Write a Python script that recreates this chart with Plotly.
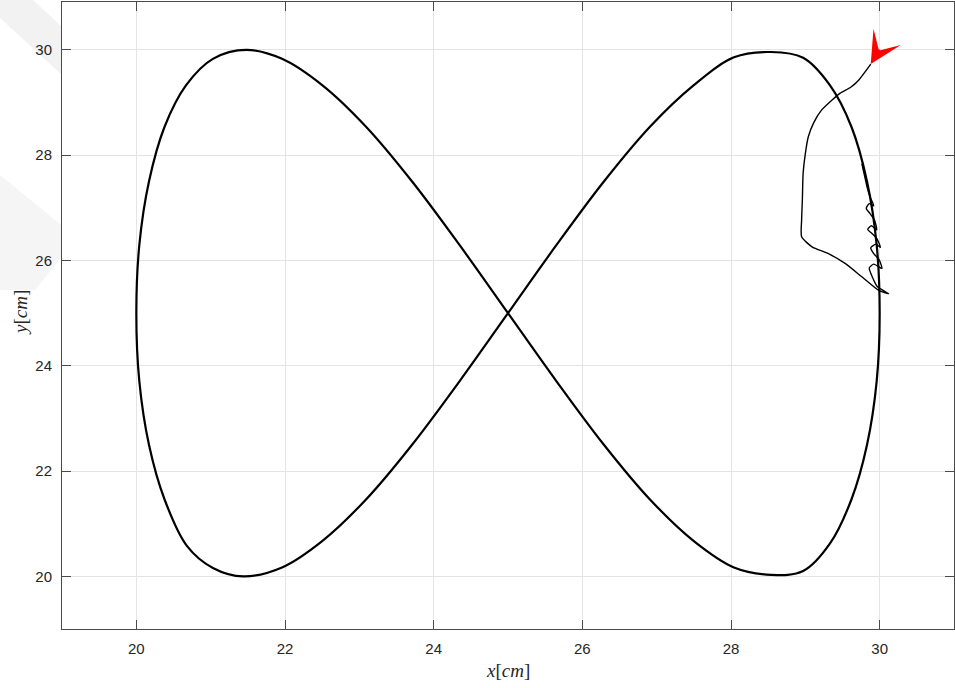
import math
import plotly.graph_objects as go

# Tracked figure-eight path (cm), sampled along one full lap
loop_x = [30.00, 29.96, 29.83, 29.62, 29.33, 28.97, 28.54, 28.04, 27.50, 26.91,
          26.29, 25.65, 25.00, 24.35, 23.71, 23.09, 22.50, 21.96, 21.44, 21.03,
          20.68, 20.38, 20.17, 20.04, 20.00, 20.04, 20.17, 20.38, 20.67, 21.03,
          21.48, 21.96, 22.50, 23.09, 23.71, 24.35, 25.00, 25.65, 26.29, 26.91,
          27.50, 28.04, 28.54, 28.97, 29.33, 29.62, 29.83, 29.96, 30.00]
loop_y = [25.00, 26.29, 27.50, 28.54, 29.33, 29.85, 29.96, 29.86, 29.33, 28.54,
          27.50, 26.29, 25.00, 23.71, 22.50, 21.46, 20.67, 20.17, 20.00, 20.16,
          20.58, 21.46, 22.50, 23.71, 25.00, 26.29, 27.50, 28.54, 29.33, 29.83,
          30.00, 29.83, 29.33, 28.54, 27.50, 26.29, 25.00, 23.71, 22.50, 21.46,
          20.67, 20.17, 20.03, 20.10, 20.62, 21.46, 22.50, 23.71, 25.00]

# Initial approach from the start pose, then the settling oscillation
start_x = [29.88, 29.72, 29.61, 29.47, 29.36, 29.22, 29.11, 29.04, 29.00, 28.97,
           28.96, 28.95, 28.95, 29.09, 29.31, 29.54, 29.76, 29.99, 30.12,
           29.97, 29.90, 29.86, 29.92, 30.03, 29.99, 29.92, 29.88, 29.95, 30.01,
           29.96, 29.90, 29.84, 29.89, 29.96, 29.93, 29.87, 29.82, 29.86, 29.92,
           29.87, 29.83, 29.80, 29.76]
start_y = [29.73, 29.43, 29.29, 29.18, 29.05, 28.86, 28.61, 28.35, 28.03, 27.65,
           27.15, 26.77, 26.45, 26.26, 26.13, 25.94, 25.69, 25.43, 25.37,
           25.50, 25.69, 25.86, 25.93, 25.85, 26.02, 26.13, 26.24, 26.31, 26.25,
           26.42, 26.51, 26.59, 26.66, 26.58, 26.77, 26.89, 26.99, 27.08, 27.04,
           27.21, 27.40, 27.59, 27.84]

# Heading of the start pose, degrees clockwise from north
start_heading = 211

x_ticks = [20, 22, 24, 26, 28, 30]
y_ticks = [20, 22, 24, 26, 28, 30]

fig = go.Figure()

fig.add_trace(go.Scatter(
    x=loop_x, y=loop_y, mode="lines",
    line=dict(color="black", width=2.2, shape="spline", smoothing=1.0),
    showlegend=False, hoverinfo="skip"))

fig.add_trace(go.Scatter(
    x=start_x, y=start_y, mode="lines",
    line=dict(color="black", width=1.4, shape="spline", smoothing=0.6),
    showlegend=False, hoverinfo="skip"))

# page geometry (px) for the plot box
W, H = 955, 688
L, R, T, B = 62, 1, 2, 59
pw, ph = W - L - R, H - T - B


def px(xp, yp):
    return (xp - L) / pw, (H - B - yp) / ph


def poly(points):
    pts = [px(a, b) for a, b in points]
    return "M " + " L ".join(f"{a:.4f},{b:.4f}" for a, b in pts) + " Z"


shapes = [
    dict(type="path", xref="paper", yref="paper", layer="below",
         path=poly([(0, 0), (33, 0), (61, 26), (61, 74), (0, 18)]),
         fillcolor="#f2f2f2", line=dict(width=0)),
    dict(type="path", xref="paper", yref="paper", layer="below",
         path=poly([(0, 175), (61, 225), (61, 258), (35, 290), (0, 290)]),
         fillcolor="#f5f5f5", line=dict(width=0)),
]

# barbed red heading marker at the start pose; tail offset points back
# along the heading so the head faces the direction of travel
tail = 17
hd = math.radians(start_heading)
tail_dx = -math.sin(hd) * tail
tail_dy = math.cos(hd) * tail

axis_common = dict(
    showgrid=True, gridcolor="#e4e4e4", gridwidth=1,
    showline=True, linecolor="#4a4a4a", linewidth=1, mirror="ticks",
    ticks="inside", ticklen=9, tickwidth=1, tickcolor="#4a4a4a",
    tickfont=dict(family="Liberation Sans, Arial, sans-serif", size=15,
                  color="#262626"),
    zeroline=False, fixedrange=True,
)

fig.update_layout(
    width=W, height=H,
    margin=dict(l=L, r=R, t=T, b=B, autoexpand=False),
    paper_bgcolor="white", plot_bgcolor="white",
    xaxis=dict(range=[19, 31], tickvals=x_ticks, ticktext=[str(v) for v in x_ticks],
               ticklabelstandoff=6, **axis_common),
    yaxis=dict(range=[19, 30.91], tickvals=y_ticks, ticktext=[str(v) for v in y_ticks],
               ticklabelstandoff=6, **axis_common),
    shapes=shapes,
    annotations=[
        dict(x=start_x[0], y=start_y[0], xref="x", yref="y", text="",
             showarrow=True, arrowhead=3, arrowsize=5.3, arrowwidth=1,
             arrowcolor="#ff0000", ax=tail_dx, ay=tail_dy, standoff=0),
        dict(text="<i>x</i>[<i>cm</i>]", xref="paper", yref="paper",
             x=px(508, 0)[0], y=px(0, 671)[1], xanchor="center", yanchor="middle",
             showarrow=False,
             font=dict(family="Liberation Serif, DejaVu Serif, serif", size=19,
                       color="#262626")),
        dict(text="<i>y</i>[<i>cm</i>]", xref="paper", yref="paper",
             x=px(20, 0)[0], y=px(0, 313)[1], xanchor="center", yanchor="middle",
             textangle=-90, showarrow=False,
             font=dict(family="Liberation Serif, DejaVu Serif, serif", size=19,
                       color="#262626")),
    ],
)

fig.write_html("out.html")
